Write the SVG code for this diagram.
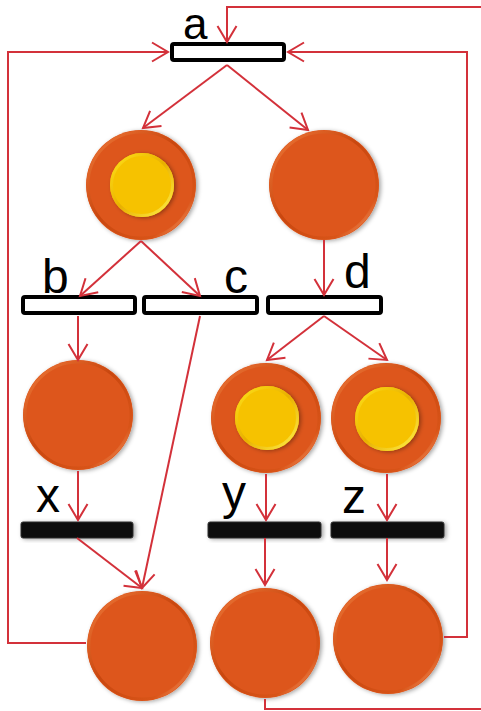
<svg xmlns="http://www.w3.org/2000/svg" width="481" height="711" viewBox="0 0 481 711">
<style>
.lbl{font-family:"Liberation Sans",Arial,sans-serif;font-size:48px;fill:#000}
.c{stroke:#d3313a;stroke-width:2;fill:none}
.bar{fill:#fff;stroke:#000;stroke-width:4}
.bbar{fill:#0d0d0d;stroke:#333;stroke-width:1}
.disc{fill:#dd561b}
.tok{fill:#f6c200}
</style>
<defs>
<marker id="ah" markerUnits="userSpaceOnUse" markerWidth="40" markerHeight="40" viewBox="-20 -20 40 40" refX="0" refY="0" orient="auto">
<path d="M-16,-9.5 L0,0 L-16,9.5" fill="none" stroke="#d3313a" stroke-width="2"/>
</marker>
<linearGradient id="rim" x1="0" y1="0" x2="1" y2="1">
<stop offset="0" stop-color="#f07a3a"/>
<stop offset="0.45" stop-color="#c9470f"/>
<stop offset="0.8" stop-color="#d85418"/>
<stop offset="1" stop-color="#ffb080"/>
</linearGradient>
<linearGradient id="trim" x1="0" y1="0" x2="1" y2="1">
<stop offset="0" stop-color="#ffe21a"/>
<stop offset="0.5" stop-color="#e8b000"/>
<stop offset="1" stop-color="#fff04a"/>
</linearGradient>
<filter id="sh" x="-20%" y="-20%" width="150%" height="150%">
<feDropShadow dx="2" dy="1" stdDeviation="2" flood-color="#000" flood-opacity="0.35"/>
</filter>
<g id="disc">
<circle r="55" class="disc" filter="url(#sh)"/>
<circle r="53" fill="none" stroke="url(#rim)" stroke-width="3"/>
</g>
<g id="token">
<circle r="32" class="tok" filter="url(#sh)"/>
<circle r="30.5" fill="none" stroke="url(#trim)" stroke-width="3"/>
</g>
</defs>
<rect width="481" height="711" fill="#fff"/>

<g id="nodes">
<g id="bar-a"><rect class="bar" x="172" y="44" width="112" height="16" rx="2"/><text class="lbl" x="183" y="39" style="font-size:44px">a</text></g>
<g id="bar-b"><rect class="bar" x="23" y="297" width="112" height="16" rx="2"/><text class="lbl" x="42" y="293">b</text></g>
<g id="bar-c"><rect class="bar" x="144" y="297" width="113" height="16" rx="2"/><text class="lbl" x="224" y="293">c</text></g>
<g id="bar-d"><rect class="bar" x="268" y="297" width="113" height="16" rx="2"/><text class="lbl" x="344" y="288">d</text></g>
<g id="bar-x"><rect class="bbar" x="21" y="522" width="112" height="16" rx="2" filter="url(#sh)"/><text class="lbl" x="36" y="512">x</text></g>
<g id="bar-y"><rect class="bbar" x="208" y="522" width="113" height="16" rx="2" filter="url(#sh)"/><text class="lbl" x="222" y="509">y</text></g>
<g id="bar-z"><rect class="bbar" x="331" y="522" width="113" height="16" rx="2" filter="url(#sh)"/><text class="lbl" x="342" y="513">z</text></g>

<g id="p1"><use href="#disc" x="141" y="185"/><use href="#token" x="142" y="185"/></g>
<g id="p2"><use href="#disc" x="324" y="185"/></g>
<g id="p3"><use href="#disc" x="78" y="415"/></g>
<g id="p4"><use href="#disc" x="266" y="418"/><use href="#token" x="267" y="418"/></g>
<g id="p5"><use href="#disc" x="386" y="418"/><use href="#token" x="387" y="419"/></g>
<g id="p6"><use href="#disc" x="142" y="646"/></g>
<g id="p7"><use href="#disc" x="265" y="643"/></g>
<g id="p8"><use href="#disc" x="388" y="639"/></g>
</g>

<g id="connectors" class="c">
<polyline points="481,7 227,7 227,42" marker-end="url(#ah)"/>
<polyline points="86,643 8,643 8,52 168,52" marker-end="url(#ah)"/>
<polyline points="444,637 467,637 467,52 288,52" marker-end="url(#ah)"/>
<polyline points="265,699 265,709 481,709"/>
<line x1="227" y1="65" x2="143" y2="128" marker-end="url(#ah)"/>
<line x1="227" y1="65" x2="308" y2="130" marker-end="url(#ah)"/>
<line x1="141" y1="241" x2="80" y2="296" marker-end="url(#ah)"/>
<line x1="141" y1="241" x2="200" y2="296" marker-end="url(#ah)"/>
<line x1="324" y1="240" x2="324" y2="295" marker-end="url(#ah)"/>
<line x1="78" y1="316" x2="78" y2="360" marker-end="url(#ah)"/>
<line x1="200" y1="316" x2="142" y2="588" marker-end="url(#ah)"/>
<line x1="324" y1="316" x2="267" y2="360" marker-end="url(#ah)"/>
<line x1="324" y1="316" x2="387" y2="360" marker-end="url(#ah)"/>
<line x1="78" y1="471" x2="78" y2="520" marker-end="url(#ah)"/>
<line x1="266" y1="474" x2="266" y2="520" marker-end="url(#ah)"/>
<line x1="387" y1="474" x2="387" y2="520" marker-end="url(#ah)"/>
<line x1="77" y1="538" x2="142" y2="588" marker-end="url(#ah)"/>
<line x1="265" y1="538" x2="265" y2="585" marker-end="url(#ah)"/>
<line x1="387" y1="538" x2="387" y2="580" marker-end="url(#ah)"/>
</g>
</svg>
